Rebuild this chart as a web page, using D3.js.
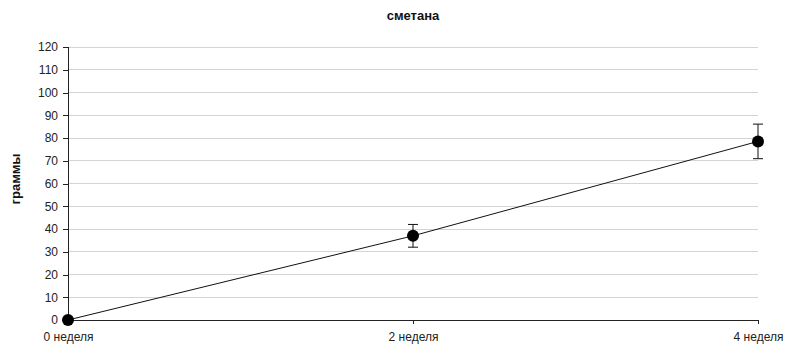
<!DOCTYPE html>
<html><head><meta charset="utf-8">
<script src="https://cdn.jsdelivr.net/npm/d3@7"></script>
<style>body{margin:0;background:#fff}svg{display:block}</style>
</head><body>
<svg id="c" width="794" height="353"></svg>
<script>
const categories = ["0 неделя", "2 неделя", "4 неделя"];
const values = [0, 37, 78.5];
const errors = [0, 5, 7.6];
const yTicks = [0,10,20,30,40,50,60,70,80,90,100,110,120];
const title = "сметана";
const yTitle = "граммы";

(function(){
const svg = d3.select("#c");
const font = "Arial, 'Liberation Sans', sans-serif";
const pLeft = 68, pRight = 758, pTop = 47, pBottom = 320;
const x = d3.scalePoint().domain(categories).range([pLeft, pRight]);
const y = d3.scaleLinear().domain([0, 120]).range([pBottom, pTop]);

// gridlines
svg.append("g").selectAll("line").data(yTicks.filter(d => d > 0)).join("line")
  .attr("x1", pLeft).attr("x2", pRight)
  .attr("y1", d => y(d)).attr("y2", d => y(d))
  .attr("stroke", "#d4d4d4").attr("stroke-width", 1).attr("shape-rendering", "crispEdges");

// y axis
const ya = svg.append("g").attr("transform", `translate(${pLeft},0)`)
  .call(d3.axisLeft(y).tickValues(yTicks).tickSize(5).tickPadding(5));
ya.select(".domain").attr("stroke", "#222").attr("shape-rendering", "crispEdges");
ya.selectAll(".tick line").attr("stroke", "#222").attr("shape-rendering", "crispEdges");
ya.selectAll("text").attr("font-family", font).attr("font-size", 12).attr("fill", "#222");

// x axis
const xa = svg.append("g").attr("transform", `translate(0,${pBottom})`)
  .call(d3.axisBottom(x).tickSize(4).tickSizeOuter(0).tickPadding(8));
xa.select(".domain").attr("stroke", "#222").attr("shape-rendering", "crispEdges");
xa.selectAll(".tick line").attr("stroke", "#222").attr("shape-rendering", "crispEdges");
xa.selectAll("text").attr("font-family", font).attr("font-size", 12).attr("fill", "#222");

// line
const line = d3.line().x((d, i) => x(categories[i])).y(d => y(d));
svg.append("path").datum(values).attr("d", line)
  .attr("fill", "none").attr("stroke", "#111").attr("stroke-width", 1);

// error bars
const eb = svg.append("g").selectAll("g").data(values.map((v, i) => ({v, e: errors[i], c: categories[i]})).filter(d => d.e > 0)).join("g");
eb.append("line").attr("x1", d => x(d.c)).attr("x2", d => x(d.c))
  .attr("y1", d => y(d.v + d.e)).attr("y2", d => y(d.v - d.e)).attr("stroke", "#111");
eb.append("line").attr("x1", d => x(d.c) - 5).attr("x2", d => x(d.c) + 5)
  .attr("y1", d => y(d.v + d.e)).attr("y2", d => y(d.v + d.e)).attr("stroke", "#111");
eb.append("line").attr("x1", d => x(d.c) - 5).attr("x2", d => x(d.c) + 5)
  .attr("y1", d => y(d.v - d.e)).attr("y2", d => y(d.v - d.e)).attr("stroke", "#111");

// markers
svg.append("g").selectAll("circle").data(values).join("circle")
  .attr("cx", (d, i) => x(categories[i])).attr("cy", d => y(d)).attr("r", 6)
  .attr("fill", "#000");

// title
svg.append("text").attr("x", 413).attr("y", 20).attr("text-anchor", "middle")
  .attr("font-family", font).attr("font-size", 13).attr("font-weight", "bold").attr("fill", "#111").text(title);

// y title
svg.append("text").attr("transform", "translate(20,179) rotate(-90)").attr("text-anchor", "middle")
  .attr("font-family", font).attr("font-size", 13).attr("font-weight", "bold").attr("fill", "#111").text(yTitle);
})();
</script>
</body></html>
